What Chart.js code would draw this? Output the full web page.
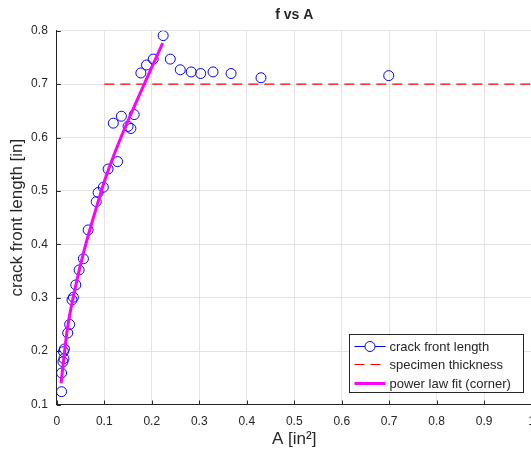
<!DOCTYPE html>
<html>
<head>
<meta charset="utf-8">
<script src="https://cdn.jsdelivr.net/npm/chart.js@4"></script>
<style>
  html, body { margin: 0; padding: 0; background: #fff; overflow: hidden; }
  #wrap { width: 531px; height: 459px; overflow: hidden; }
</style>
</head>
<body>
<div id="wrap"><canvas id="chart" width="545" height="459"></canvas></div>
<script>
// measured crack front length vs crack area
const areaA = [0.010, 0.010, 0.013, 0.015, 0.014, 0.016, 0.023, 0.027, 0.032, 0.035,
  0.040, 0.047, 0.056, 0.066, 0.083, 0.087, 0.098, 0.108, 0.128, 0.119,
  0.136, 0.150, 0.156, 0.163, 0.177, 0.189, 0.203, 0.224, 0.239, 0.260,
  0.283, 0.303, 0.329, 0.367, 0.430, 0.699];
const frontF = [0.124, 0.159, 0.180, 0.186, 0.199, 0.204, 0.234, 0.250, 0.296, 0.301,
  0.324, 0.352, 0.373, 0.427, 0.480, 0.497, 0.507, 0.541, 0.555, 0.627,
  0.640, 0.621, 0.617, 0.643, 0.721, 0.736, 0.747, 0.791, 0.747, 0.727,
  0.723, 0.720, 0.723, 0.720, 0.712, 0.716];

// power law fit through the corner points
const fitA = [0.009, 0.022, 0.038, 0.058, 0.082, 0.104, 0.133, 0.163, 0.193, 0.223];
const fitF = [0.140, 0.240, 0.315, 0.390, 0.465, 0.528, 0.596, 0.658, 0.718, 0.777];

// specimen thickness
const thickA = [0.1, 1];
const thickF = [0.7, 0.7];

const xTicks = [0, 0.1, 0.2, 0.3, 0.4, 0.5, 0.6, 0.7, 0.8, 0.9, 1];
const yTicks = [0.1, 0.2, 0.3, 0.4, 0.5, 0.6, 0.7, 0.8];

const FONT = "'Liberation Sans', Arial, Helvetica, sans-serif";
const INK = '#262626';

const toPoints = (xs, ys) => xs.map((x, i) => ({ x, y: ys[i] }));

// small inward ticks on the left and bottom axes
const innerTicks = {
  id: 'innerTicks',
  afterDraw(chart) {
    const { ctx, chartArea, scales } = chart;
    ctx.save();
    ctx.strokeStyle = INK;
    ctx.lineWidth = 1;
    ctx.beginPath();
    xTicks.forEach(v => {
      const x = Math.round(scales.x.getPixelForValue(v)) + 0.5;
      ctx.moveTo(x, chartArea.bottom);
      ctx.lineTo(x, chartArea.bottom - 4);
    });
    yTicks.forEach(v => {
      const y = Math.round(scales.y.getPixelForValue(v)) + 0.5;
      ctx.moveTo(chartArea.left, y);
      ctx.lineTo(chartArea.left + 4, y);
    });
    ctx.stroke();
    ctx.restore();
  }
};

// boxed legend in the lower right corner
const cornerLegend = {
  id: 'cornerLegend',
  afterDraw(chart) {
    const { ctx } = chart;
    const bx = 349.5, by = 334.5, bw = 174, bh = 58;
    ctx.save();
    ctx.fillStyle = '#fff';
    ctx.fillRect(bx, by, bw, bh);
    ctx.strokeStyle = INK;
    ctx.lineWidth = 1;
    ctx.strokeRect(bx, by, bw, bh);
    ctx.font = '13px ' + FONT;
    ctx.textBaseline = 'middle';
    ctx.textAlign = 'left';
    chart.data.datasets.forEach((ds, i) => {
      const y = Math.round(by + 11 + i * 18.5) + 0.5;
      const x0 = bx + 5, x1 = bx + 36;
      ctx.save();
      ctx.strokeStyle = ds.borderColor;
      ctx.lineWidth = ds.legendWidth;
      ctx.setLineDash(ds.borderDash || []);
      ctx.beginPath();
      ctx.moveTo(x0, y);
      ctx.lineTo(x1, y);
      ctx.stroke();
      ctx.setLineDash([]);
      if (ds.pointRadius > 0) {
        ctx.fillStyle = '#fff';
        ctx.beginPath();
        ctx.arc((x0 + x1) / 2, y, ds.pointRadius, 0, Math.PI * 2);
        ctx.fill();
        ctx.lineWidth = 1;
        ctx.stroke();
      }
      ctx.restore();
      ctx.fillStyle = INK;
      ctx.fillText(ds.label, bx + 40, y + 0.5);
    });
    ctx.restore();
  }
};

new Chart(document.getElementById('chart'), {
  type: 'scatter',
  data: {
    datasets: [
      {
        label: 'crack front length',
        data: toPoints(areaA, frontF),
        showLine: false,
        borderColor: '#0000ff',
        backgroundColor: 'rgba(0,0,0,0)',
        pointRadius: 5,
        pointBorderWidth: 1,
        legendWidth: 1,
        order: 2,
      },
      {
        label: 'specimen thickness',
        data: toPoints(thickA, thickF),
        showLine: true,
        borderColor: '#ff0000',
        borderWidth: 1.2,
        borderDash: [10, 6],
        pointRadius: 0,
        legendWidth: 1,
        order: 1,
      },
      {
        label: 'power law fit (corner)',
        data: toPoints(fitA, fitF),
        showLine: true,
        borderColor: '#ff00ff',
        borderWidth: 3,
        cubicInterpolationMode: 'monotone',
        pointRadius: 0,
        legendWidth: 3,
        order: 0,
      },
    ]
  },
  options: {
    responsive: false,
    animation: false,
    layout: { padding: { right: 13 } },
    plugins: {
      legend: { display: false },
      tooltip: { enabled: false },
      title: {
        display: true,
        text: 'f vs A',
        fullSize: false,
        color: INK,
        font: { family: FONT, size: 14, weight: 'bold' },
        padding: { top: 7, bottom: 7 },
      },
    },
    scales: {
      x: {
        type: 'linear',
        min: 0,
        max: 1,
        afterFit(scale) { scale.height = 54.5; },
        afterBuildTicks(scale) { scale.ticks = xTicks.map(value => ({ value })); },
        ticks: {
          color: INK,
          padding: 10,
          maxRotation: 0,
          font: { family: FONT, size: 12 },
          callback: v => String(+v.toFixed(1)),
        },
        grid: { color: '#e3e3e3', drawTicks: false },
        border: { color: INK, width: 1 },
        title: {
          display: true,
          text: 'A [in²]',
          color: INK,
          font: { family: FONT, size: 17 },
          padding: { bottom: 9 },
        },
      },
      y: {
        type: 'linear',
        min: 0.1,
        max: 0.8,
        afterFit(scale) { scale.width = 56.8; },
        afterBuildTicks(scale) { scale.ticks = yTicks.map(value => ({ value })); },
        ticks: {
          color: INK,
          padding: 9,
          font: { family: FONT, size: 12 },
          callback: v => String(+v.toFixed(1)),
        },
        grid: { color: '#e3e3e3', drawTicks: false },
        border: { color: INK, width: 1 },
        title: {
          display: true,
          text: 'crack front length [in]',
          color: INK,
          font: { family: FONT, size: 17 },
          padding: { top: 7 },
        },
      },
    },
  },
  plugins: [innerTicks, cornerLegend],
});
</script>
</body>
</html>
